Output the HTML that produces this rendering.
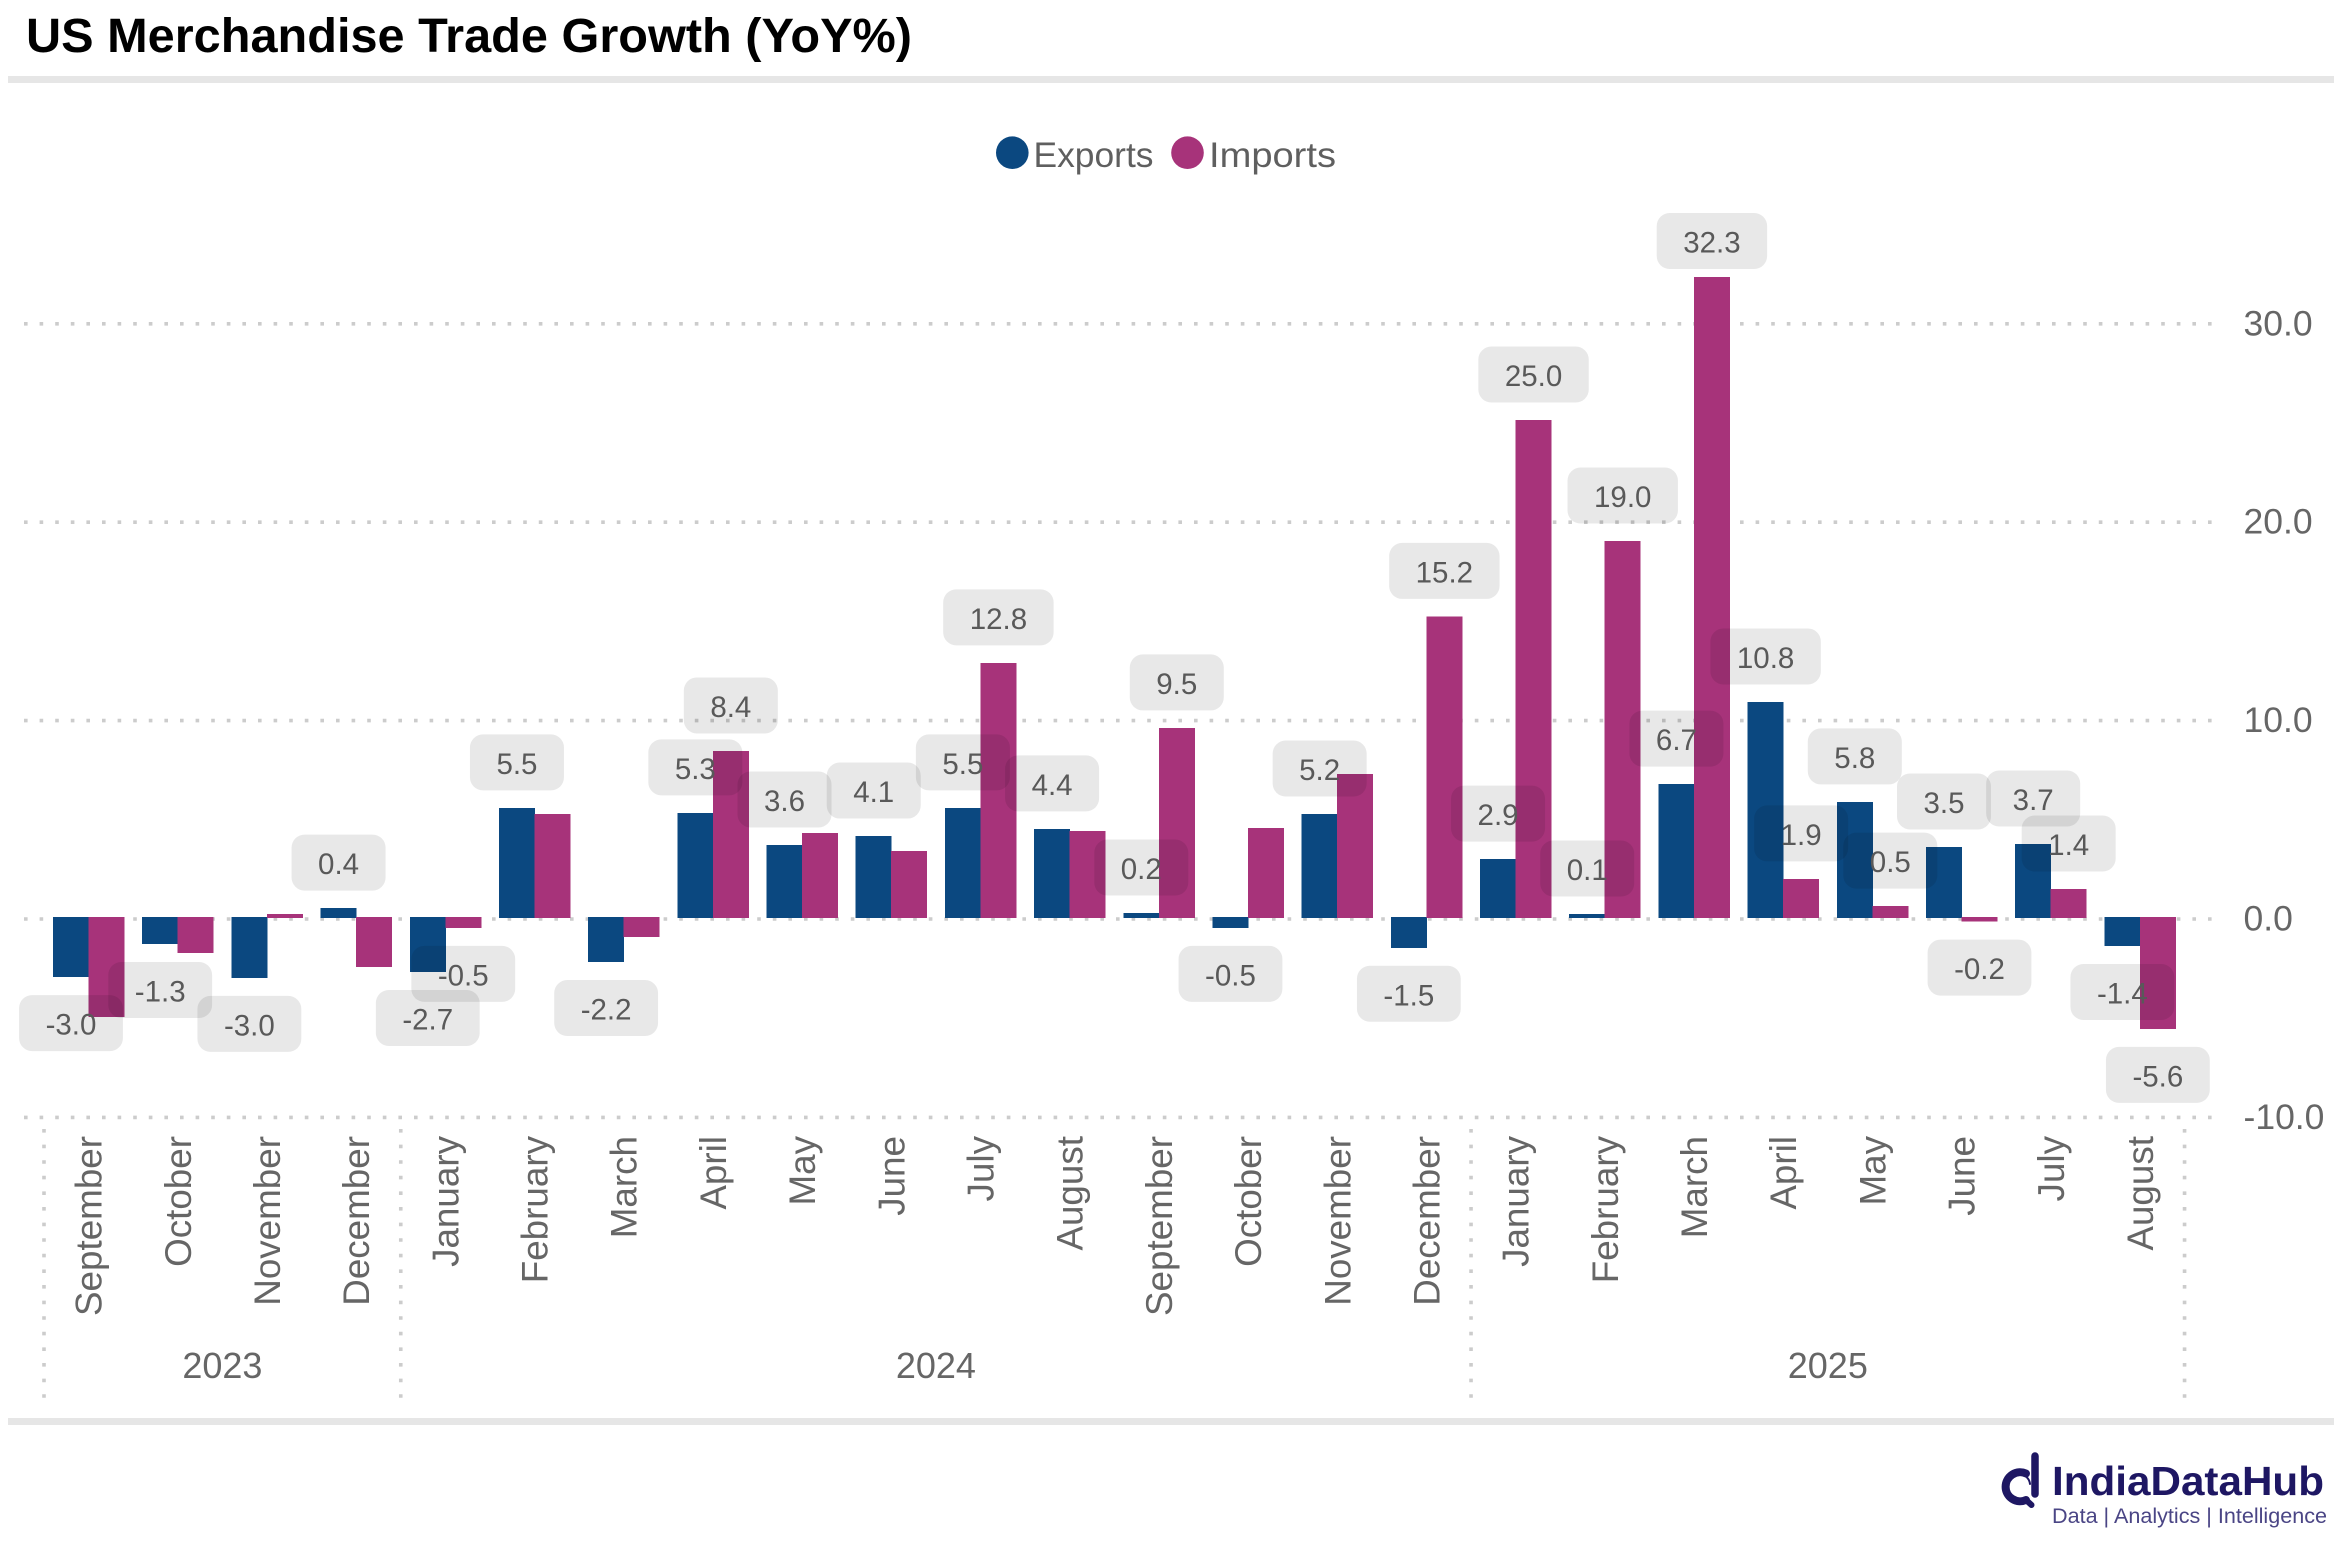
<!DOCTYPE html>
<html lang="en">
<head>
<meta charset="utf-8">
<title>US Merchandise Trade Growth (YoY%)</title>
<style>
  html, body { margin: 0; padding: 0; background: #ffffff; }
  svg { display: block; font-family: "Liberation Sans", sans-serif; }
</style>
</head>
<body>
<svg id="chart" xmlns="http://www.w3.org/2000/svg" width="2340" height="1541" viewBox="0 0 2340 1541">
  <rect x="0" y="0" width="2340" height="1541" fill="#ffffff"/>
  <text x="26" y="52" font-size="48" font-weight="700" fill="#000000" textLength="886" lengthAdjust="spacingAndGlyphs">US Merchandise Trade Growth (YoY%)</text>
  <rect x="8" y="76" width="2326" height="7" fill="#e6e6e6"/>
  <rect x="8" y="1418" width="2326" height="7" fill="#e6e6e6"/>

  <g>
    <g>
      <circle cx="1012.3" cy="152.7" r="16.3" fill="#0b4880"/>
      <text x="1033.5" y="167" font-size="35.5" fill="#5f5f5f" textLength="120" lengthAdjust="spacingAndGlyphs">Exports</text>
    </g>
    <g>
      <circle cx="1187.5" cy="152.7" r="16.3" fill="#a7337a"/>
      <text x="1209" y="167" font-size="35.5" fill="#5f5f5f" textLength="127" lengthAdjust="spacingAndGlyphs">Imports</text>
    </g>
  </g>

  <g id="grid"></g>
  <g id="separators"></g>
  <g id="bars"></g>
  <g id="yaxis"></g>
  <g id="xaxis"></g>
  <g id="labels"></g>

  <g>
    <g fill="none" stroke="#1e1763" stroke-linecap="round">
      <path d="M2026 1473.5 A14.5 14.5 0 1 0 2026 1500" stroke-width="8"/>
      <path d="M2035 1456 L2035 1494" stroke-width="7.5"/>
      <path d="M2026 1500 L2031.5 1505" stroke-width="6"/>
      <path d="M2022 1474.5 A11 11 0 0 1 2030 1484" stroke-width="2"/>
    </g>
    <text x="2052" y="1495" font-size="41" font-weight="700" fill="#1e1763" textLength="272" lengthAdjust="spacingAndGlyphs">IndiaDataHub</text>
    <text x="2052" y="1523" font-size="21" fill="#4a4585" textLength="275" lengthAdjust="spacingAndGlyphs">Data | Analytics | Intelligence</text>
  </g>
</svg>

<script>
const months = ['September','October','November','December','January','February','March','April','May','June','July','August','September','October','November','December','January','February','March','April','May','June','July','August'];
const years = ['2023','2024','2025'];
const yearMonthCounts = [4,12,8];
const exportsValues = [-3.03,-1.36,-3.07,0.5,-2.77,5.55,-2.27,5.3,3.68,4.13,5.55,4.49,0.25,-0.55,5.24,-1.55,2.97,0.2,6.75,10.89,5.85,3.58,3.73,-1.46];
const importsValues = [-5.05,-1.81,0.2,-2.52,-0.55,5.24,-1.0,8.42,4.29,3.38,12.86,4.39,9.58,4.54,7.26,15.2,25.1,19.0,32.3,1.97,0.6,-0.23,1.46,-5.64];
const exportsPrinted = [-3.0,-1.3,-3.0,0.4,-2.7,5.5,-2.2,5.3,3.6,4.1,5.5,4.4,0.2,-0.5,5.2,-1.5,2.9,0.1,6.7,10.8,5.8,3.5,3.7,-1.4];
const importsPrinted = [null,null,null,null,-0.5,null,null,8.4,null,null,12.8,null,9.5,null,null,15.2,25.0,19.0,32.3,1.9,0.5,-0.2,1.4,-5.6];
const yTicks = [-10,0,10,20,30];

const NS = 'http://www.w3.org/2000/svg';
const UNIT = 19.84;
const BAND = 89.19;
const BAND_START = 44;

function gridY(v) { return 919 - UNIT * v; }
function barEndY(v) { return v >= 0 ? 918 - UNIT * v : 917 - UNIT * v; }
function barBaseY(v) { return v >= 0 ? 918 : 917; }
function bandX(i) { return BAND_START + BAND * i; }
function exportX(i) { return bandX(i) + 9; }
function importX(i) { return bandX(i) + 44.5; }

function make(tag, parent, props) {
  const node = document.createElementNS(NS, tag);
  for (const key in props) node.setAttribute(key, props[key]);
  parent.appendChild(node);
  return node;
}

const gridGroup = document.getElementById('grid');
const sepGroup = document.getElementById('separators');
const barGroup = document.getElementById('bars');
const yGroup = document.getElementById('yaxis');
const xGroup = document.getElementById('xaxis');
const labelGroup = document.getElementById('labels');

yTicks.forEach(function (t) {
  const line = make('line', gridGroup, { x1: 24, x2: 2214, y1: gridY(t), y2: gridY(t), stroke: '#cccccc', 'stroke-width': 3.6, 'stroke-dasharray': '3.6 12' });
  
  
  const tick = make('text', yGroup, { x: 2243.5, y: gridY(t) + 11.5, 'font-size': 35.5, fill: '#666666' });
  
  
  tick.textContent = t.toFixed(1);
});

let cursor = 0;
function separator(i) {
  const s = make('line', sepGroup, { x1: bandX(i), x2: bandX(i), y1: 1129, y2: 1399, stroke: '#cccccc', 'stroke-width': 3.6, 'stroke-dasharray': '3.6 12' });
  
  
}
separator(0);
years.forEach(function (yr, k) {
  const next = cursor + yearMonthCounts[k];
  separator(next);
  const yl = make('text', xGroup, { x: (bandX(cursor) + bandX(next)) / 2, y: 1378, 'font-size': 36, fill: '#666666', 'text-anchor': 'middle' });
  
  
  yl.textContent = yr;
  cursor = next;
});

function drawBar(x, w, v, color, name) {
  const top = Math.min(barBaseY(v), barEndY(v));
  const h = Math.abs(barEndY(v) - barBaseY(v));
  const r = make('rect', barGroup, { x: x, y: top, width: w, height: h, fill: color, 'shape-rendering': 'crispEdges' });
  
  
}

months.forEach(function (m, i) {
  drawBar(exportX(i), 36, exportsValues[i], '#0b4880', 'bar-exports');
  drawBar(importX(i), 36, importsValues[i], '#a7337a', 'bar-imports');
  const cx = bandX(i) + BAND / 2 + 13;
  const ml = make('text', xGroup, { x: cx, y: 1136, 'font-size': 36.8, fill: '#666666', 'text-anchor': 'end', transform: 'rotate(-90 ' + cx + ' 1136)' });
  
  
  ml.textContent = m;
});

function drawLabel(cx, v, printed) {
  const g = make('g', labelGroup, {});
  
  
  const h = 56;
  const top = v >= 0 ? Math.max(213, barEndY(v) - 17.5 - h) : barEndY(v) + 18;
  const box = make('rect', g, { y: top, height: h, rx: 13, ry: 13, fill: 'rgba(0,0,0,0.09)' });
  
  
  const txt = make('text', g, { x: cx, y: top + 39.5, 'font-size': 29.5, fill: '#595959', 'text-anchor': 'middle' });
  
  
  txt.textContent = printed.toFixed(1);
  const w = txt.getComputedTextLength() + 53;
  box.setAttribute('x', cx - w / 2);
  box.setAttribute('width', w);
}

months.forEach(function (m, i) {
  drawLabel(exportX(i) + 18, exportsValues[i], exportsPrinted[i]);
  if (importsPrinted[i] !== null) {
    drawLabel(importX(i) + 18, importsValues[i], importsPrinted[i]);
  }
});
</script>
</body>
</html>
